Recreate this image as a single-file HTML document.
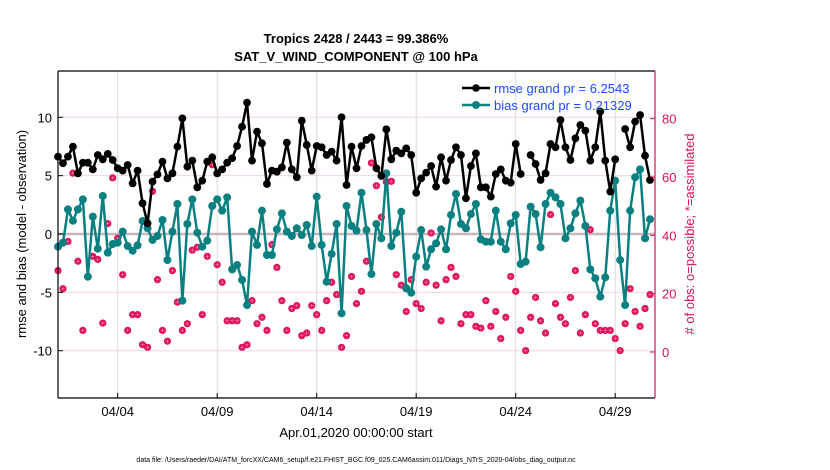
<!DOCTYPE html>
<html><head><meta charset="utf-8"><style>
html,body{margin:0;padding:0;background:#fff;width:830px;height:470px;overflow:hidden}
svg text{font-family:"Liberation Sans",sans-serif}
</style></head><body>
<svg id="chart" width="830" height="470" xmlns="http://www.w3.org/2000/svg">
<g id="grid"></g>
<g id="series"></g>
<g id="axes"></g>
<text x="356" y="43" text-anchor="middle" font-size="13" font-weight="bold">Tropics 2428 / 2443 = 99.386%</text>
<text x="356" y="61" text-anchor="middle" font-size="13" font-weight="bold">SAT_V_WIND_COMPONENT @ 100 hPa</text>
<text transform="translate(26,234) rotate(-90)" text-anchor="middle" font-size="13">rmse and bias (model - observation)</text>
<text transform="translate(694,234) rotate(-90)" text-anchor="middle" font-size="13" fill="#d8105a"># of obs: o=possible; *=assimilated</text>
<text x="356" y="437" text-anchor="middle" font-size="13">Apr.01,2020 00:00:00 start</text>
<text x="356" y="462" text-anchor="middle" font-size="7">data file: /Users/raeder/DAI/ATM_forcXX/CAM6_setup/f.e21.FHIST_BGC.f09_025.CAM6assim.011/Diags_NTrS_2020-04/obs_diag_output.nc</text>
<g>
<line x1="462" y1="88" x2="490" y2="88" stroke="#000" stroke-width="2.5"/>
<circle cx="476" cy="88" r="3.8" fill="#000"/>
<text x="494" y="93" font-size="13" fill="#1a4cff">rmse grand pr = 6.2543</text>
<line x1="462" y1="105" x2="490" y2="105" stroke="#0a8080" stroke-width="2.5"/>
<circle cx="476" cy="105" r="4" fill="#0a8080"/>
<text x="494" y="110" font-size="13" fill="#1a4cff">bias grand pr = 0.21329</text>
</g>
</svg>
<script>
const leftTicks=[-10,-5,0,5,10];
const rightTicks=[0,20,40,60,80];
const dateTicks=[3,8,13,18,23,28];
const dateLabels=["04/04","04/09","04/14","04/19","04/24","04/29"];
const rmse=[6.63,6.06,6.63,7.49,5.2,6.11,6.11,5.54,6.77,6.4,6.86,6.34,5.63,5.43,5.91,4.34,5.43,2.63,0.91,4.49,5.11,6.2,4.77,5.2,7.49,9.91,5.77,6.29,4.0,4.57,6.2,
6.57,5.2,5.54,6.11,6.49,7.54,9.2,11.26,6.29,8.77,7.77,4.29,5.43,5.34,5.71,7.83,5.54,4.86,9.71,7.63,5.43,7.54,7.43,6.77,7.06,6.29,10.0,4.2,7.49,5.63,
7.54,8.06,8.29,5.63,4.97,8.97,6.4,7.14,6.91,7.34,6.77,3.54,4.77,5.26,5.83,4.06,6.57,4.57,6.34,7.43,6.77,3.06,5.83,6.91,4.0,4.0,3.2,5.14,5.54,4.57,
4.4,7.71,5.14,null,6.77,6.0,4.63,5.2,7.71,7.43,9.77,7.43,6.34,8.2,9.34,8.86,6.29,7.43,10.49,6.29,3.63,6.4,null,9.0,7.43,9.63,10.2,6.71,4.63];
const bias=[-1.09,-0.74,2.11,1.14,2.11,2.97,-3.66,1.49,-1.26,3.26,-1.6,-0.86,-0.74,0.2,-1.03,-1.43,-0.97,1.11,0.49,-0.51,-0.17,1.2,-2.23,0.2,2.57,-5.71,0.86,2.97,0.11,-1.09,-0.57,
2.4,2.97,2.0,3.14,-3.03,-2.66,-3.94,-6.09,0.2,-0.94,2.0,-1.8,-1.8,0.4,1.77,0.2,-0.17,0.49,-0.09,0.77,-1.03,3.2,-0.94,-4.09,-1.71,0.86,-6.8,2.4,0.69,0.29,
3.54,0.34,-3.43,0.86,-0.37,5.2,-1.03,0.11,1.91,-4.66,-5.03,-1.94,0.34,-2.8,-1.31,-0.8,0.4,-1.31,1.63,3.43,0.86,0.49,1.71,2.57,-0.46,-0.66,-0.66,2.0,-0.66,-1.31,
0.91,1.63,-2.57,-2.37,2.34,1.71,-1.14,2.57,3.54,3.14,2.57,-0.37,0.49,1.77,2.86,0.69,-3.03,-3.8,-5.37,-3.71,2.0,4.57,-2.23,-6.09,2.0,4.86,5.54,-0.37,1.26];
const nobs=[27.9,21.7,37.9,61.3,31.1,7.4,25.9,32.8,31.7,9.9,44.0,59.7,39,26.5,7.4,12.8,12.8,2.5,1.6,55.1,24.8,7.4,3.7,27.9,17.1,7.4,9.7,34.9,35.9,12.8,32.8,
64.2,29.9,23.9,10.7,10.7,10.7,1.6,2.5,17.6,9.7,11.9,7.4,36.8,29.0,17.6,7.4,14.9,15.9,5.6,6.5,15.9,12.8,7.4,17.6,23.9,19.7,1.6,5.6,25.9,16.6,
20.8,31.1,64.8,57.0,46.2,58.3,58.5,26.5,22.9,13.9,24.8,16.6,14.9,23.9,40.8,22.9,10.7,24.8,29.0,25.9,9.7,12.8,12.8,8.8,8.2,17.6,8.8,13.9,4.6,11.9,
25.9,20.8,7.4,0.5,11.9,18.7,10.7,6.5,47.1,16.6,11.9,9.7,18.7,27.9,6.5,12.8,41.9,9.7,7.4,7.4,7.4,4.6,0.5,9.7,21.7,13.9,8.8,14.9,19.7];

const X0=58,X1=655,Y0=71,Y1=398;
const xs=d=>X0+d/30*(X1-X0);
const yL=v=>234-v*11.67;
const yR=o=>352-o*2.9175;
const NS="http://www.w3.org/2000/svg";
function mk(tag,attrs,parent){const e=document.createElementNS(NS,tag);for(const k in attrs)e.setAttribute(k,attrs[k]);parent.appendChild(e);return e;}
const grid=document.getElementById('grid'),ser=document.getElementById('series'),ax=document.getElementById('axes');

leftTicks.forEach(v=>{
  const l=mk('line',{x1:X0,x2:X1,y1:yL(v),y2:yL(v),stroke:'#f2d3de','stroke-width':1},grid);
  
  
  const t=mk('text',{x:X0-6,y:yL(v)+5,'text-anchor':'end','font-size':13},ax);
  t.textContent=v;
  
  
  mk('line',{x1:X0,x2:X0+5,y1:yL(v),y2:yL(v),stroke:'#000'},ax);
});
dateTicks.forEach((d,i)=>{
  const l=mk('line',{x1:xs(d),x2:xs(d),y1:Y0,y2:Y1,stroke:'#d9d9d9','stroke-width':1},grid);
  
  
  const t=mk('text',{x:xs(d),y:416,'text-anchor':'middle','font-size':13},ax);
  t.textContent=dateLabels[i];
  
  
  mk('line',{x1:xs(d),x2:xs(d),y1:Y1,y2:Y1-5,stroke:'#000'},ax);
});
const z=mk('line',{x1:X0,x2:X1,y1:yL(0),y2:yL(0),stroke:'#c8b4bc','stroke-width':2.5},grid);



nobs.forEach((o,i)=>{
  if(o==null)return;
  const cx=xs(i*0.25),cy=yR(o);
  const g=mk('g',{},ser);
  
  
  mk('circle',{cx,cy,r:3.6,fill:'#e0105a'},g);
  mk('path',{d:`M${cx-2} ${cy}H${cx+2}M${cx} ${cy-2}V${cy+2}`,stroke:'#f7a0c0','stroke-width':0.5},g);
});
function drawLine(arr,color,r,name){
  let d='',pen=false;
  arr.forEach((v,i)=>{if(v==null){pen=false;return;}d+=(pen?'L':'M')+xs(i*0.25).toFixed(1)+' '+yL(v).toFixed(1);pen=true;});
  const p=mk('path',{d,fill:'none',stroke:color,'stroke-width':2.5,'stroke-linejoin':'round'},ser);
  
  
  arr.forEach((v,i)=>{if(v==null)return;
    const c=mk('circle',{cx:xs(i*0.25),cy:yL(v),r,fill:color},ser);
    
    
  });
}
drawLine(bias,'#0a8080',4,'bias');
drawLine(rmse,'#000',3.9,'rmse');

mk('line',{x1:X0,x2:X0,y1:Y0,y2:Y1,stroke:'#000','stroke-width':1.2},ax);
mk('line',{x1:X0,x2:X1,y1:Y1,y2:Y1,stroke:'#000','stroke-width':1.2},ax);
mk('line',{x1:X0,x2:X1,y1:Y0,y2:Y0,stroke:'#000','stroke-width':1.2},ax);
mk('line',{x1:X1,x2:X1,y1:Y0,y2:Y1,stroke:'#d8105a','stroke-width':1.2},ax);
rightTicks.forEach(o=>{
  mk('line',{x1:X1,x2:X1-5,y1:yR(o),y2:yR(o),stroke:'#d8105a'},ax);
  const t=mk('text',{x:X1+7,y:yR(o)+5,'font-size':13,fill:'#d8105a'},ax);
  t.textContent=o;
  
  
});
</script>
</body></html>
